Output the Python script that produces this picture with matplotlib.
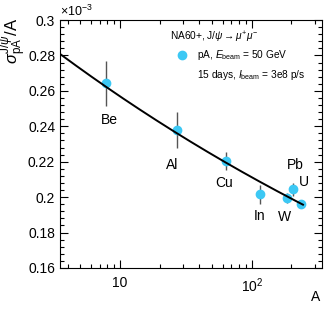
import numpy as np
import matplotlib
matplotlib.use('Agg')
import matplotlib.pyplot as plt
import matplotlib.ticker as ticker

plt.rcParams['font.family'] = ['Liberation Sans', 'DejaVu Sans']
plt.rcParams['mathtext.fontset'] = 'custom'
plt.rcParams['mathtext.rm'] = 'Liberation Sans'
plt.rcParams['mathtext.it'] = 'Liberation Sans:italic'
plt.rcParams['mathtext.sf'] = 'Liberation Sans'

# data (y in units of 1e-3)
nuclei = ['Be', 'Al', 'Cu', 'In', 'W', 'Pb', 'U']
mass_A = [7.8, 27, 63.5, 115, 184, 207, 238]
sigma = [0.2643, 0.2378, 0.2204, 0.2016, 0.1997, 0.2044, 0.1960]
sigma_err = [0.0127, 0.0100, 0.0052, 0.0053, 0.0028, 0.0037, 0.0017]

# power-law fit sigma/A = s0 * A^(alpha-1)
fit_s0 = 0.3124
fit_alpha = 0.915
fit_range = [3.5, 245]

# label offsets (pixels)
label_off = {'Be': (3, -37), 'Al': (-5, -35), 'Cu': (-2, -22), 'In': (0, -22),
             'W': (-2, -19), 'Pb': (2, 24), 'U': (3, 22)}

fig = plt.figure(figsize=(3.32, 3.09), dpi=100)
ax = fig.add_axes([0.181, 0.133, 0.788, 0.802])

xs = np.logspace(np.log10(fit_range[0]), np.log10(fit_range[1]), 200)
ax.plot(xs, fit_s0 * xs ** (fit_alpha - 1), color='black', lw=1.4, zorder=4)

ax.errorbar(mass_A, sigma, yerr=sigma_err, fmt='o', color='#3cc8f4', ms=6,
            ecolor='#555555', elinewidth=1.0, capsize=0, zorder=3)

for name, a, s in zip(nuclei, mass_A, sigma):
    ax.annotate(name, xy=(a, s), xytext=label_off[name], textcoords='offset pixels',
                ha='center', va='center', fontsize=10)

ax.set_xscale('log')
ax.set_xlim(3.5, 340)
ax.set_ylim(0.16, 0.30)
ax.yaxis.set_major_locator(ticker.MultipleLocator(0.02))
ax.yaxis.set_minor_locator(ticker.MultipleLocator(0.004))
ax.yaxis.set_major_formatter(ticker.FuncFormatter(lambda v, p: '%g' % round(v, 3)))
ax.xaxis.set_major_locator(ticker.FixedLocator([10, 100]))
ax.xaxis.set_major_formatter(ticker.FixedFormatter(['10', r'$10^{2}$']))
ax.xaxis.set_minor_locator(ticker.LogLocator(subs=np.arange(2, 10)))
ax.xaxis.set_minor_formatter(ticker.NullFormatter())
ax.tick_params(which='both', direction='in', top=True, right=True, labelsize=10)
ax.tick_params(which='major', length=6, width=0.8)
ax.tick_params(which='minor', length=3, width=0.8)
ax.tick_params(axis='x', which='major', pad=6)

ax.text(0.0, 1.005, r'$\times10^{-3}$', transform=ax.transAxes, fontsize=9,
        ha='left', va='bottom')
ax.set_ylabel(r'$\sigma^{\mathrm{J}/\psi}_{\mathrm{pA}}$/A', fontsize=12, ha='right')
ax.yaxis.set_label_coords(-0.12, 1.01)
ax.set_xlabel('A', fontsize=10, ha='center', va='top')
ax.xaxis.set_label_coords(0.975, -0.09)

# legend box drawn as text
ax.text(0.42, 0.93, r'NA60+, J/$\psi\rightarrow\mu^{+}\mu^{-}$', transform=ax.transAxes,
        fontsize=7.3, ha='left', va='center')
ax.plot([0.465], [0.86], 'o', color='#3cc8f4', ms=6, transform=ax.transAxes)
ax.text(0.525, 0.86, r'pA, $E_{\rm beam}$ = 50 GeV', transform=ax.transAxes,
        fontsize=7.3, ha='left', va='center')
ax.text(0.525, 0.78, r'15 days, $I_{\rm beam}$ = 3e8 p/s', transform=ax.transAxes,
        fontsize=7.3, ha='left', va='center')

plt.savefig('out.png', dpi=100)
